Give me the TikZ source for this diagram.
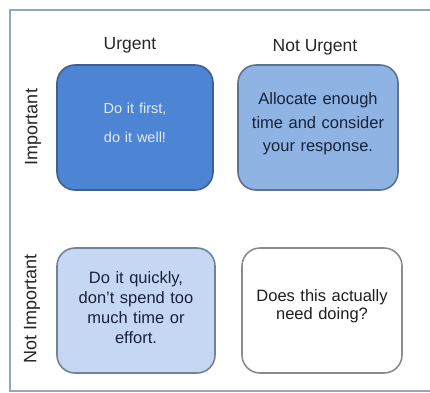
\documentclass[tikz,border=0pt]{standalone}
\usepackage{fontspec}
\setmainfont{Liberation Sans}
\definecolor{frameC}{HTML}{94A6BD}
\definecolor{qOneF}{HTML}{4D84D4}
\definecolor{qOneD}{HTML}{3E5F92}
\definecolor{qOneT}{HTML}{E2ECF9}
\definecolor{qTwoF}{HTML}{8FB4E3}
\definecolor{qTwoD}{HTML}{5C7391}
\definecolor{qThreeF}{HTML}{C6D8F1}
\definecolor{qThreeD}{HTML}{72829B}
\definecolor{qFourD}{HTML}{8C8C8C}
\definecolor{darkT}{HTML}{18223A}
\tikzset{
  quad/.style={rectangle, align=center, inner sep=0pt, text width=156pt},
  head/.style={font=\fontsize{17.5}{21}\selectfont, text=black!85, inner sep=0pt},
  side/.style={font=\fontsize{18}{21}\selectfont, text=black!85, inner sep=0pt, rotate=90},
  box/.style={rounded corners=18pt, line width=1.6pt},
}
\begin{document}
\begin{tikzpicture}[x=1pt,y=-1pt]
\useasboundingbox (0,0) rectangle (430,392);
\fill[white] (0,0) rectangle (430,392);
\begin{scope}
\clip (0,0) rectangle (430,392);
\draw[frameC, line width=2pt] (10,10) rectangle (445,391);
\end{scope}
% quadrants
\draw[box, qOneD, fill=qOneF] (57,65) rectangle (213,190);
\node[quad, text=qOneT, font=\fontsize{14.5}{29}\selectfont] (q1) at (135,122.5) {Do it first,\\do it well!};
\draw[box, qTwoD, fill=qTwoF] (238,65) rectangle (398,190);
\node[quad, text=darkT, font=\fontsize{16.5}{23.5}\selectfont] (q2) at (318,124) {Allocate enough\\time and consider\\your response.};
\draw[box, qThreeD, fill=qThreeF] (57,248) rectangle (215,373);
\node[quad, text=darkT, font=\fontsize{16.5}{20}\selectfont] (q3) at (136,308) {Do it quickly,\\don't spend too\\much time or\\effort.};
\draw[box, qFourD, fill=white] (242,248) rectangle (402,373);
\node[quad, text=black!88, font=\fontsize{16.5}{18.5}\selectfont] (q4) at (322,306) {Does this actually\\need doing?};
% headers
\node[head] (urg) at (130,45) {Urgent};
\node[head] (nurg) at (315,47) {Not Urgent};
\node[side] (imp) at (33,127) {Important};
\node[side] (nimp) at (32,309) {Not Important};
\end{tikzpicture}
\end{document}
